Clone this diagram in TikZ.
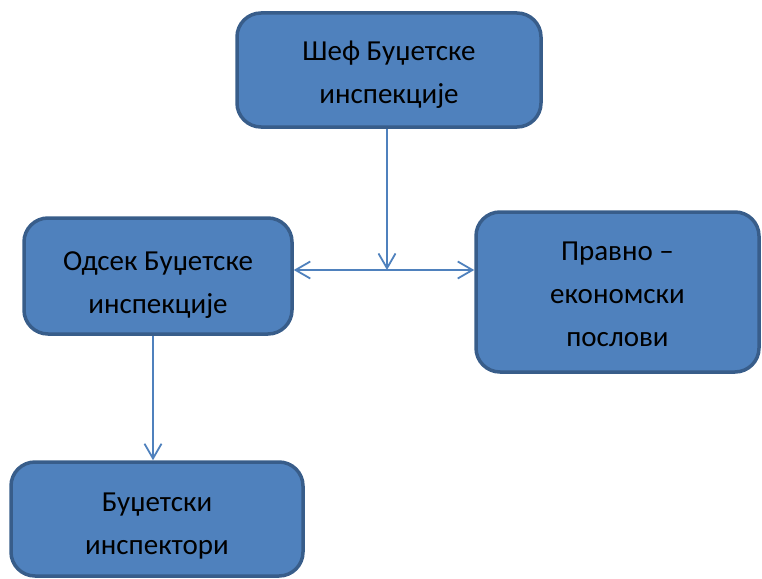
\documentclass[tikz,border=0pt]{standalone}
\usepackage{fontspec}
\setmainfont{Carlito}
\usetikzlibrary{arrows.meta}
\definecolor{boxfill}{HTML}{4F81BD}
\definecolor{boxline}{HTML}{385D8A}
\definecolor{conn}{HTML}{4F81BD}
\newcommand{\boxtext}[2]{\raisebox{-#1}[\height][\depth]{\begin{tabular}{@{}c@{}}#2\end{tabular}}}
\begin{document}
\begin{tikzpicture}[x=1pt,y=-1pt,
  orgbox/.style={draw=boxline, fill=boxfill, line width=3.5pt, rounded corners=24pt,
    inner sep=0pt, font=\fontsize{29}{43}\selectfont, text=black},
  conn/.style={draw=conn, line width=1.8pt, -{Straight Barb[angle=60:17pt]}},
  conn2/.style={draw=conn, line width=1.8pt, {Straight Barb[angle=60:17pt]}-{Straight Barb[angle=60:17pt]}}]
\useasboundingbox (0,0) rectangle (762,578);
\node[orgbox, minimum width=304pt, minimum height=114pt] (chief) at (389,70) {\boxtext{3pt}{Шеф Буџетске\\инспекције}};
\node[orgbox, minimum width=268pt, minimum height=116pt] (dept) at (158,276) {\boxtext{7pt}{Одсек Буџетске\\инспекције}};
\node[orgbox, minimum width=283pt, minimum height=160pt] (legal) at (617.5,292) {\boxtext{3pt}{Правно –\\економски\\послови}};
\node[orgbox, minimum width=292pt, minimum height=114pt] (insp) at (157,519) {\boxtext{5pt}{Буџетски\\инспектори}};
\coordinate (h) at (387,270);
\coordinate (v) at (153,0);
\draw[conn] (h |- chief.south) -- (h);
\draw[conn2] (dept.east |- h) -- (legal.west |- h);
\draw[conn] (v |- dept.south) -- (v |- insp.north);
\end{tikzpicture}
\end{document}
